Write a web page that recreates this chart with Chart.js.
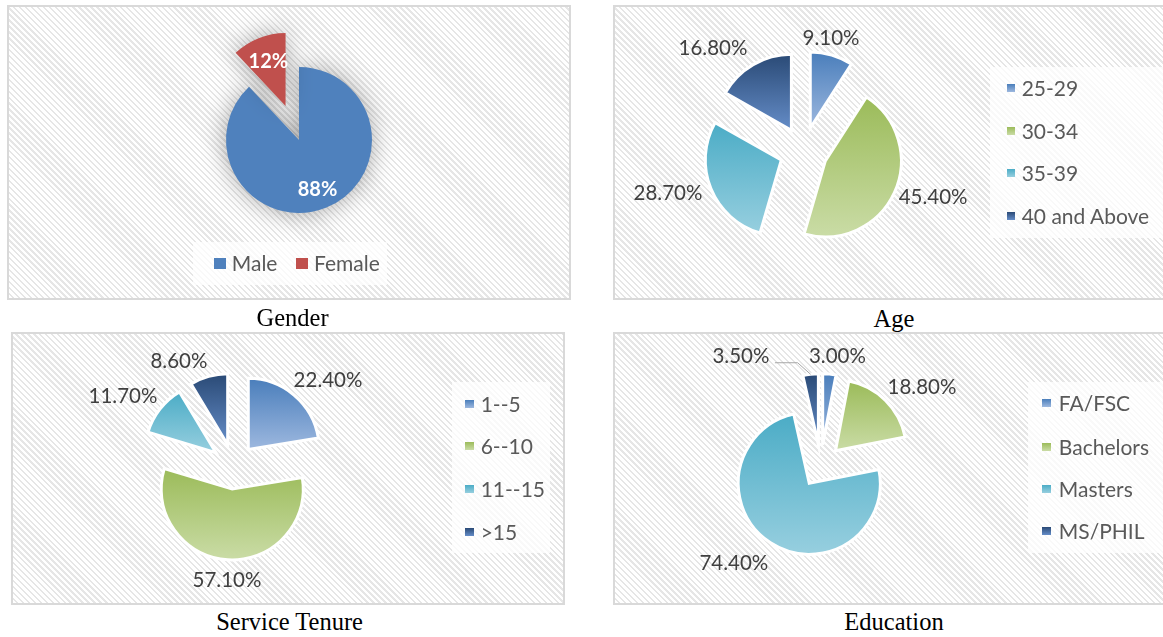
<!DOCTYPE html>
<html>
<head>
<meta charset="utf-8">
<script src="https://cdn.jsdelivr.net/npm/chart.js@4.4.0/dist/chart.umd.min.js"></script>
<style>
html,body{margin:0;padding:0;background:#fff;}
#root{position:relative;width:1163px;height:637px;overflow:hidden;background:#fff;}
.panel{position:absolute;box-sizing:border-box;border:2px solid #d9d9d9;
  background:repeating-linear-gradient(45deg,#ffffff 0px,#ffffff 2.5px,#e6e6e6 2.5px,#e6e6e6 4.2px);}
canvas.pie{position:absolute;}
.legend{position:absolute;background:rgba(255,255,255,0.74);}
.lg-item{position:absolute;white-space:nowrap;font-family:Lato,'Noto Sans',sans-serif;font-size:21px;color:#595959;line-height:24px;height:24px;}
.lg-sw{position:absolute;}
.caption{position:absolute;font-family:'Liberation Serif','Times New Roman',serif;font-size:24.5px;color:#000;transform:translate(-50%,-50%);white-space:nowrap;line-height:1.15;}
</style>
</head>
<body>
<div id="root"></div>
<script>
// ---------------- DATA ----------------
const chartTitles = ['Gender', 'Age', 'Service Tenure', 'Education'];

const genderCategories = ['Male', 'Female'];
const genderValues = [88, 12];

const ageCategories = ['25-29', '30-34', '35-39', '40 and Above'];
const ageValues = [9.1, 45.4, 28.7, 16.8];

const tenureCategories = ['1--5', '6--10', '11--15', '>15'];
const tenureValues = [22.4, 57.1, 11.7, 8.6];

const educationCategories = ['FA/FSC', 'Bachelors', 'Masters', 'MS/PHIL'];
const educationValues = [3.0, 18.8, 74.4, 3.5];

// ---------------- STYLE ----------------
const BLUE = ['#4A7EBB', '#9DB8DF'];
const GREEN = ['#9BBB59', '#CADCA6'];
const AQUA = ['#4BACC6', '#97CFDF'];
const NAVY = ['#2A4A76', '#658DC8'];
const seriesGrad = [BLUE, GREEN, AQUA, NAVY];

const panels = [
  { title: chartTitles[0], categories: genderCategories, values: genderValues,
    box: [7, 5, 564, 295], center: [299, 140], R: 73,
    explode: [0, 36.5], border: 0,
    colors: [['#4F81BD', '#4F81BD'], ['#C0504D', '#C0504D']],
    labelFont: 'bold 20px Lato', labelColor: '#ffffff', decimals: 0,
    place: [[0.73, 1.3], [0.65, 0.3]], leaders: [false, false],
    shadow: true,
    legend: { type: 'h', box: [193, 242, 194, 43], x: 214.3, y: 263.3, sw: 11.5, gap: 6, itemGap: 19 },
    caption: [292.5, 317.5] },
  { title: chartTitles[1], categories: ageCategories, values: ageValues,
    box: [613, 5, 560, 295], center: [803.5, 151], R: 76,
    explode: [24, 24, 24, 24], border: 3,
    colors: seriesGrad,
    labelFont: '20.5px Lato', labelColor: '#404040', decimals: 2,
    place: [[1.216, -3.4], [1.495, -6.0], [1.553, 5.9], [1.487, -13.7]], leaders: [false, false, false, false],
    shadow: false,
    legend: { type: 'v', box: [990, 67, 180, 171], x: 1006.7, rows: [88.3, 131, 173.3, 215.7], sw: 8.3, textX: 1021.7 },
    caption: [894, 318.5] },
  { title: chartTitles[2], categories: tenureCategories, values: tenureValues,
    box: [11, 332, 554, 273], center: [233.7, 466.5], R: 71,
    explode: [22.5, 22.5, 22.5, 22.5], border: 3,
    colors: seriesGrad,
    labelFont: '20.5px Lato', labelColor: '#404040', decimals: 2,
    place: [[1.489, 8.55], [1.29, -0.5], [1.534, -6.5], [1.356, -14.9]], leaders: [false, false, false, false],
    shadow: false,
    legend: { type: 'v', box: [452, 382, 98, 171], x: 465.4, rows: [404.3, 446, 489.3, 531.7], sw: 8.3, textX: 480.7 },
    caption: [289.6, 622] },
  { title: chartTitles[3], categories: educationCategories, values: educationValues,
    box: [613, 332, 560, 273], center: [820.7, 465.7], R: 71,
    explode: [21, 21, 21, 21], border: 3,
    colors: seriesGrad,
    labelFont: '20.5px Lato', labelColor: '#404040', decimals: 2,
    place: [[1.258, 4.1], [1.514, 8.8], [1.548, 10.3], [1.652, -35]], leaders: [false, false, false, true],
    shadow: false,
    legend: { type: 'v', box: [1028, 382, 142, 171], x: 1042.4, rows: [403, 447, 489, 531], sw: 8.3, textX: 1058.8 },
    caption: [894, 622] }
];

// ---------------- PLUGINS ----------------
function sliceGeom(chart, i) {
  const ds = chart.data.datasets[0];
  const data = ds.data;
  const total = data.reduce((a, b) => a + b, 0);
  let acc = 0;
  for (let j = 0; j < i; j++) acc += data[j];
  const a0 = -Math.PI / 2 + 2 * Math.PI * acc / total;
  const a1 = a0 + 2 * Math.PI * data[i] / total;
  const ca = chart.chartArea;
  const cx = (ca.left + ca.right) / 2, cy = (ca.top + ca.bottom) / 2;
  const mid = (a0 + a1) / 2;
  const offs = (chart.options.plugins.explode && chart.options.plugins.explode.offsets) || [];
  const d = offs[i] || 0;
  return { cx: cx + Math.cos(mid) * d, cy: cy + Math.sin(mid) * d, a0, a1, r: ds.radius };
}
function verticalExtent(g) {
  const ys = [g.cy, g.cy + Math.sin(g.a0) * g.r, g.cy + Math.sin(g.a1) * g.r];
  for (const t of [-Math.PI / 2, Math.PI / 2, 3 * Math.PI / 2]) {
    if (t >= g.a0 - 1e-9 && t <= g.a1 + 1e-9) ys.push(g.cy + Math.sin(t) * g.r);
  }
  return [Math.min(...ys), Math.max(...ys)];
}

const explodePlugin = {
  id: 'explode',
  afterDatasetUpdate(chart, args, opts) {
    const meta = chart.getDatasetMeta(args.index);
    const offs = opts.offsets || [];
    meta.data.forEach((arc, i) => {
      const d = offs[i] || 0;
      if (!d) return;
      const mid = (arc.startAngle + arc.endAngle) / 2;
      arc.x += Math.cos(mid) * d;
      arc.y += Math.sin(mid) * d;
    });
  }
};

const shadowPlugin = {
  id: 'pieShadow',
  beforeDatasetsDraw(chart, args, opts) {
    if (!opts.enabled) return;
    chart.ctx.save();
    chart.ctx.shadowColor = opts.color;
    chart.ctx.shadowBlur = opts.blur;
  },
  afterDatasetsDraw(chart, args, opts) {
    if (!opts.enabled) return;
    chart.ctx.restore();
  }
};

const labelPlugin = {
  id: 'sliceLabels',
  afterDatasetsDraw(chart, args, opts) {
    const ctx = chart.ctx;
    const meta = chart.getDatasetMeta(0);
    const data = chart.data.datasets[0].data;
    ctx.save();
    ctx.font = opts.font;
    ctx.fillStyle = opts.color;
    ctx.textAlign = 'center';
    ctx.textBaseline = 'middle';
    meta.data.forEach((arc, i) => {
      const pl = opts.place[i];
      const mid = (arc.startAngle + arc.endAngle) / 2;
      const a = mid + pl[1] * Math.PI / 180;
      const x = arc.x + Math.cos(a) * pl[0] * arc.outerRadius;
      const y = arc.y + Math.sin(a) * pl[0] * arc.outerRadius;
      const text = data[i].toFixed(opts.decimals) + '%';
      ctx.fillText(text, x, y);
      if (opts.leaders && opts.leaders[i]) {
        const w = ctx.measureText(text).width;
        const ex = arc.x + Math.cos(mid) * arc.outerRadius;
        const ey = arc.y + Math.sin(mid) * arc.outerRadius;
        const sx = x + w / 2 + 5.5, sy = y + 6;
        ctx.save();
        ctx.strokeStyle = '#a6a6a6';
        ctx.lineWidth = 1;
        ctx.beginPath();
        ctx.moveTo(sx, sy);
        ctx.lineTo(sx + 22.7, sy);
        ctx.lineTo(ex, ey);
        ctx.stroke();
        ctx.restore();
      }
    });
    ctx.restore();
  }
};

// ---------------- BUILD ----------------
const root = document.getElementById('root');

panels.forEach((p, pi) => {
  const [bx, by, bw, bh] = p.box;
  const panel = document.createElement('div');
  panel.className = 'panel';
  Object.assign(panel.style, { left: bx + 'px', top: by + 'px', width: bw + 'px', height: bh + 'px' });
  root.appendChild(panel);

  const lg = p.legend;
  const lbox = document.createElement('div');
  lbox.className = 'legend';
  Object.assign(lbox.style, { left: lg.box[0] + 'px', top: lg.box[1] + 'px', width: lg.box[2] + 'px', height: lg.box[3] + 'px' });
  root.appendChild(lbox);

  const cv = document.createElement('canvas');
  cv.className = 'pie';
  cv.width = bw; cv.height = bh;
  Object.assign(cv.style, { left: bx + 'px', top: by + 'px', width: bw + 'px', height: bh + 'px' });
  root.appendChild(cv);

  const lcx = p.center[0] - bx, lcy = p.center[1] - by;
  const pad = { left: 0, right: 0, top: 0, bottom: 0 };
  if (lcx < bw / 2) pad.right = bw - 2 * lcx; else pad.left = 2 * lcx - bw;
  if (lcy < bh / 2) pad.bottom = bh - 2 * lcy; else pad.top = 2 * lcy - bh;

  const cols = p.colors;
  new Chart(cv, {
    type: 'pie',
    data: {
      labels: p.categories,
      datasets: [{
        data: p.values,
        radius: p.R,
        borderWidth: p.border,
        borderColor: '#ffffff',
        borderJoinStyle: 'miter',
        backgroundColor: (ctx) => {
          const chart = ctx.chart;
          const i = ctx.dataIndex;
          const c = cols[i % cols.length];
          if (!chart.chartArea || i === undefined) return c[0];
          const g = sliceGeom(chart, i);
          const [y0, y1] = verticalExtent(g);
          const grad = chart.ctx.createLinearGradient(0, y0, 0, y1);
          grad.addColorStop(0, c[0]);
          grad.addColorStop(1, c[1]);
          return grad;
        }
      }]
    },
    options: {
      responsive: false,
      animation: false,
      events: [],
      layout: { padding: pad },
      plugins: {
        legend: { display: false },
        tooltip: { enabled: false },
        title: { display: false },
        explode: { offsets: p.explode },
        pieShadow: { enabled: p.shadow, color: 'rgba(0,0,0,0.34)', blur: 24 },
        sliceLabels: { font: p.labelFont, color: p.labelColor, decimals: p.decimals, place: p.place, leaders: p.leaders }
      }
    },
    plugins: [explodePlugin, shadowPlugin, labelPlugin]
  });

  if (lg.type === 'h') {
    let x = lg.x;
    p.categories.forEach((name, i) => {
      const sw = document.createElement('div');
      sw.className = 'lg-sw';
      Object.assign(sw.style, { left: x + 'px', top: (lg.y - lg.sw / 2) + 'px', width: lg.sw + 'px', height: lg.sw + 'px',
        background: cols[i][0] });
      root.appendChild(sw);
      const t = document.createElement('div');
      t.className = 'lg-item';
      t.textContent = name;
      Object.assign(t.style, { left: (x + lg.sw + lg.gap) + 'px', top: (lg.y - 12) + 'px' });
      root.appendChild(t);
      x = x + lg.sw + lg.gap + t.getBoundingClientRect().width + lg.itemGap;
    });
  } else {
    p.categories.forEach((name, i) => {
      const y = lg.rows[i];
      const sw = document.createElement('div');
      sw.className = 'lg-sw';
      Object.assign(sw.style, { left: lg.x + 'px', top: (y - lg.sw / 2) + 'px', width: lg.sw + 'px', height: lg.sw + 'px',
        background: 'linear-gradient(to bottom,' + cols[i][0] + ',' + cols[i][1] + ')' });
      root.appendChild(sw);
      const t = document.createElement('div');
      t.className = 'lg-item';
      t.textContent = name;
      Object.assign(t.style, { left: lg.textX + 'px', top: (y - 12) + 'px' });
      root.appendChild(t);
    });
  }

  const cap = document.createElement('div');
  cap.className = 'caption';
  cap.textContent = p.title;
  Object.assign(cap.style, { left: p.caption[0] + 'px', top: p.caption[1] + 'px' });
  root.appendChild(cap);
});
</script>
</body>
</html>
